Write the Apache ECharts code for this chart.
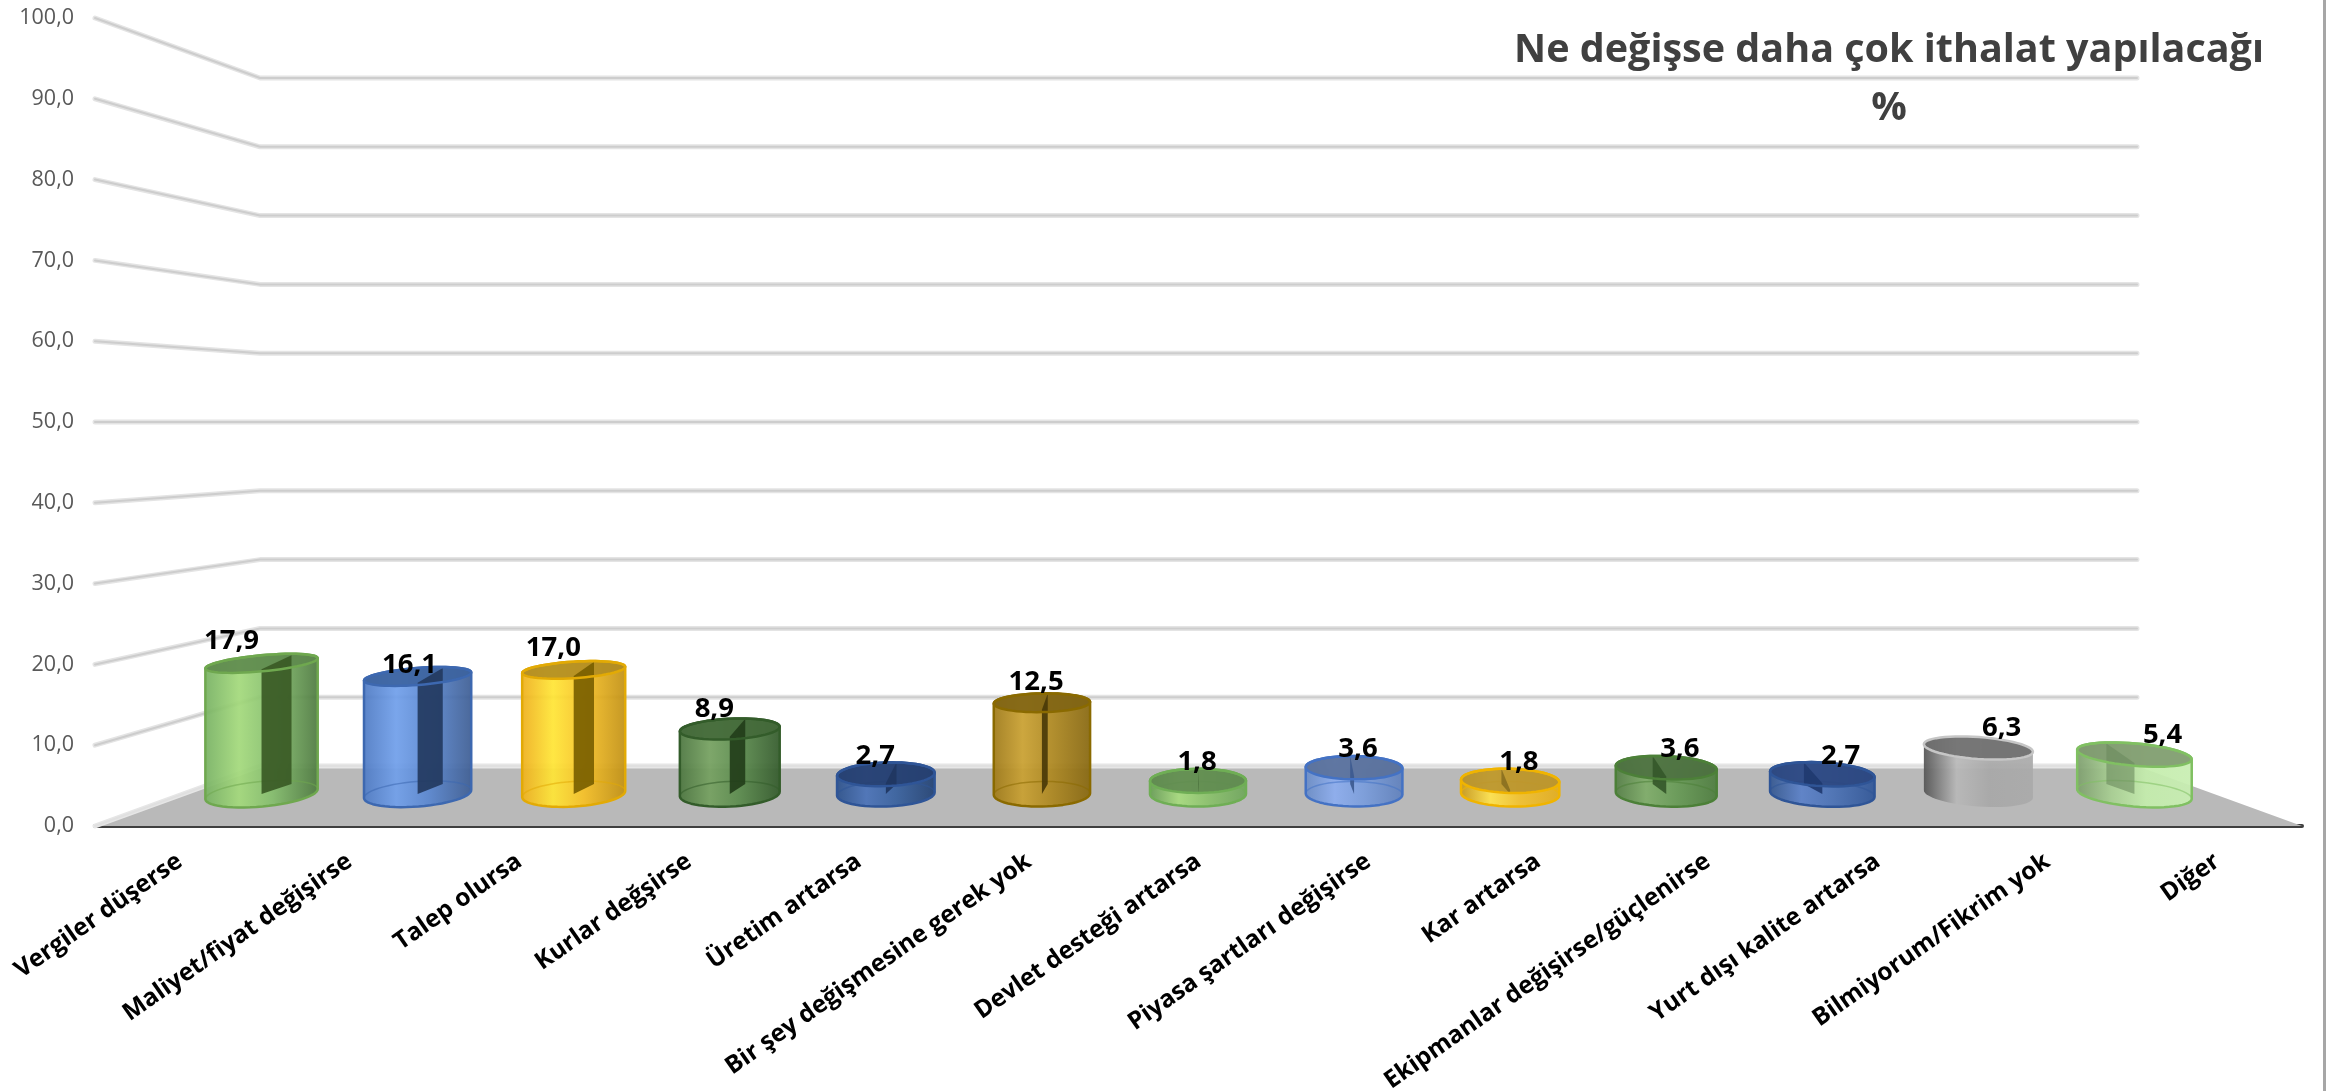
<!DOCTYPE html>
<html><head><meta charset="utf-8">
<style>html,body{margin:0;padding:0;background:#fff}#c{width:2326px;height:1091px}</style>
<script src="https://cdn.jsdelivr.net/npm/echarts@6/dist/echarts.min.js"></script>
</head><body><div id="c"></div>
<script>
const categories = ["Vergiler düşerse","Maliyet/fiyat değişirse","Talep olursa","Kurlar değşirse","Üretim artarsa","Bir şey değişmesine gerek yok","Devlet desteği artarsa","Piyasa şartları değişirse","Kar artarsa","Ekipmanlar değişirse/güçlenirse","Yurt dışı kalite artarsa","Bilmiyorum/Fikrim yok","Diğer"];
const values = [17.9,16.1,17.0,8.9,2.7,12.5,1.8,3.6,1.8,3.6,2.7,6.3,5.4];
const wallTicks = [0,10,20,30,40,50,60,70,80,90,100];
// colours: [edge-left, highlight, mid, edge-right, outline, cap, fin]
const palette = [
 ["#78b263","#a3d97b","#84bd6c","#4e7a40","#6fa84f","#5e8a4e","#3a5a25"],
 ["#4f7bc4","#709fea","#5a87d0","#3e5e94","#3d68b0","#3c639f","#23395f"],
 ["#eeb01e","#ffe535","#f6c026","#c29114","#e2aa05","#b08c22","#7a6000"],
 ["#4c763f","#74a05f","#5a8a4c","#335a2b","#335c2a","#44693a","#233e1a"],
 ["#2d528c","#4a72b8","#38619f","#234273","#2f5597","#263f70","#1f3661"],
 ["#9f7a18","#c9a030","#ad871f","#87670f","#8a6a00","#7f6414","#4a3a08"],
 ["#6a9e58","#a7db7e","#8cc26c","#6fa65c","#6fae55","#5f8a50","#466b38"],
 ["#6a8cc6","#8cadef","#7a9ddc","#5f80bc","#4472c4","#5a7099","#3d5a8f"],
 ["#c99a1c","#ffe34d","#f2c12e","#e3ad1e","#f0b400","#b89430","#8a7020"],
 ["#557f46","#7eac68","#679a55","#4d7c3e","#4c8038","#4c7040","#35582a"],
 ["#34578f","#5a80c8","#4a71b5","#2f5597","#2f5597","#2c477f","#203a70"],
 ["#555555","#b8b8b8","#a8a8a8","#aaaaaa","#c6c6c6","#6f6f6f","#6f6f6f"],
 ["#7d9e6d","#a8cf92","#c4edac","#c8eeb2","#80c062","#7f9a70","#6b8a5e"]
];
const labelNudge = {1:[17,10]};
const FRONT_LEFT = 95, FRONT_RIGHT = 2302;
const VANISH_X = 1229;
const comma = v => v.toFixed(1).replace('.', ',');
const font = '"Open Sans", sans-serif';
const chart = echarts.init(document.getElementById('c'), null, {renderer:'canvas'});

function ellipsePts(cx, cy, rx, ry, rot, from, to, n){
  const out=[], c=Math.cos(rot), s=Math.sin(rot);
  for(let i=0;i<=n;i++){
    const t=from+(to-from)*i/n, ex=rx*Math.cos(t), ey=ry*Math.sin(t);
    out.push([cx+ex*c-ey*s, cy+ex*s+ey*c]);
  }
  return out;
}
function renderWall(params, api){
  const v = api.value(0);
  const back0 = api.coord([0,v]), back1 = api.coord([1,v]);
  const fy = chart.convertToPixel({yAxisIndex:0}, v);
  const pts = [[FRONT_LEFT,fy],back0,back1];
  const light = v===0;
  return {type:'group', children:[
    {type:'polyline', shape:{points:pts}, style:{fill:null, stroke: light?'#e6e6e6':'#e4e4e4', lineWidth:5, lineCap:'round', lineJoin:'round'}},
    {type:'polyline', shape:{points:pts}, style:{fill:null, stroke: light?'#e0e0e0':'#cdcdcd', lineWidth:2, lineCap:'round', lineJoin:'round'}}
  ]};
}
function renderFloor(params, api){
  const b0 = api.coord([0,0]), b1 = api.coord([1,0]);
  const fy = chart.convertToPixel({yAxisIndex:0}, 0);
  return {type:'polygon', shape:{points:[[FRONT_LEFT,fy],b0,b1,[FRONT_RIGHT,fy]]}, style:{fill:'#b9b9b9'}};
}
function renderBar(params, api){
  const i = api.value(0), v = api.value(1);
  const base = api.coord([i,0]), top = api.coord([i,v]);
  const cx = base[0], p = palette[i];
  const norm = (cx-1170)/965;
  const rx = (96+19*norm*norm)/2;
  const rot = (cx-VANISH_X)*0.0055*Math.PI/180;
  const ryB = 12.5, ryT = 12.5-0.25*v;
  const depth = (VANISH_X-cx)*0.031;
  const body = ellipsePts(cx,base[1],rx,ryB,rot,Math.PI,0,28)
     .concat(ellipsePts(cx,top[1],rx,ryT,rot,0,-Math.PI,28));
  const grad = {type:'linear',x:0,y:0,x2:1,y2:0,colorStops:[
    {offset:0,color:p[0]},{offset:.3,color:p[1]},{offset:.6,color:p[2]},{offset:1,color:p[3]}]};
  const finPts = [[cx,base[1]],[cx+depth,base[1]-10],[cx+depth,top[1]-ryT],[cx,top[1]+ryT*0.75]];
  const nudge = labelNudge[i]||[0,0];
  const cap = ellipsePts(cx,top[1],rx,ryT,rot,0,Math.PI*2,56);
  const isGray = i===11;
  const children = [
    {type:'polygon', shape:{points:body}, style:{fill:grad, opacity:.93}},
    {type:'polyline', shape:{points:ellipsePts(cx,base[1],rx,ryB,rot,0,-Math.PI,28)}, style:{fill:null,stroke:isGray?p[3]:p[4],lineWidth:1.5,opacity:isGray?0:.55}},
    {type:'polygon', shape:{points:cap}, style:{fill:p[5],opacity:.9}}
  ];
  if(!isGray) children.push({type:'polygon', shape:{points:finPts}, style:{fill:p[6],opacity:i===12?.6:.92}});
  children.push({type:'polygon', shape:{points:cap}, style:{fill:null,stroke:p[4],lineWidth:2.5}});
  if(!isGray) children.push({type:'polygon', shape:{points:body}, style:{fill:null,stroke:p[4],lineWidth:2.5,lineJoin:'round'}});
  children.push({type:'text', style:{x:cx-depth+nudge[0], y:top[1]-18-0.22*v+nudge[1], text:comma(v), fill:'#000', font:'bold 27.5px '+font, align:'center', verticalAlign:'middle'}});
  return {type:'group', children};
}
chart.setOption({
  animation:false,
  backgroundColor:'#fff',
  title:{text:'Ne değişse daha çok ithalat yapılacağı\n%', left:1884, top:17, textAlign:'center',
    textStyle:{fontFamily:font, fontWeight:'bold', fontSize:39.5, lineHeight:58, color:'#404040'}},
  graphic:[{type:'rect',shape:{x:2323,y:0,width:3,height:1091},style:{fill:'#a6a6a6'},silent:true}],
  grid:[
    {left:FRONT_LEFT, right:2326-FRONT_RIGHT, top:18, bottom:1091-826, outerBoundsMode:'none'},
    {left:260, right:2326-2137, top:78, bottom:1091-766, outerBoundsMode:'none'},
    {left:183.5, right:2326-2212.5, top:64, bottom:1091-794, outerBoundsMode:'none'}
  ],
  xAxis:[
    {gridIndex:0,type:'category',data:categories,axisTick:{show:false},
      axisLine:{lineStyle:{color:'#3f3f3f',width:4}},
      axisLabel:{interval:0,rotate:35,margin:33,color:'#000',fontFamily:font,fontWeight:'bold',fontSize:24.5}},
    {gridIndex:1,type:'value',min:0,max:1,show:false},
    {gridIndex:2,type:'category',data:categories,show:false}
  ],
  yAxis:[
    {gridIndex:0,type:'value',min:0,max:100,interval:10,axisLine:{show:false},axisTick:{show:false},splitLine:{show:false},
      axisLabel:{formatter:comma,margin:21,color:'#595959',fontFamily:font,fontSize:21.5,padding:[5,0,0,0]}},
    {gridIndex:1,type:'value',min:0,max:100,interval:10,show:false,splitLine:{show:false}},
    {gridIndex:2,type:'value',min:0,max:100,interval:10,show:false,splitLine:{show:false}}
  ],
  series:[
    {type:'custom',name:'floor',xAxisIndex:1,yAxisIndex:1,renderItem:renderFloor,data:[[0]],z:1,silent:true,clip:false},
    {type:'custom',name:'wall',xAxisIndex:1,yAxisIndex:1,renderItem:renderWall,data:wallTicks.map(v=>[v]),z:2,silent:true,clip:false},
    {type:'custom',name:'bars',xAxisIndex:2,yAxisIndex:2,renderItem:renderBar,data:values.map((v,i)=>[i,v]),encode:{x:0,y:1},z:5,silent:true,clip:false}
  ]
});
</script></body></html>
